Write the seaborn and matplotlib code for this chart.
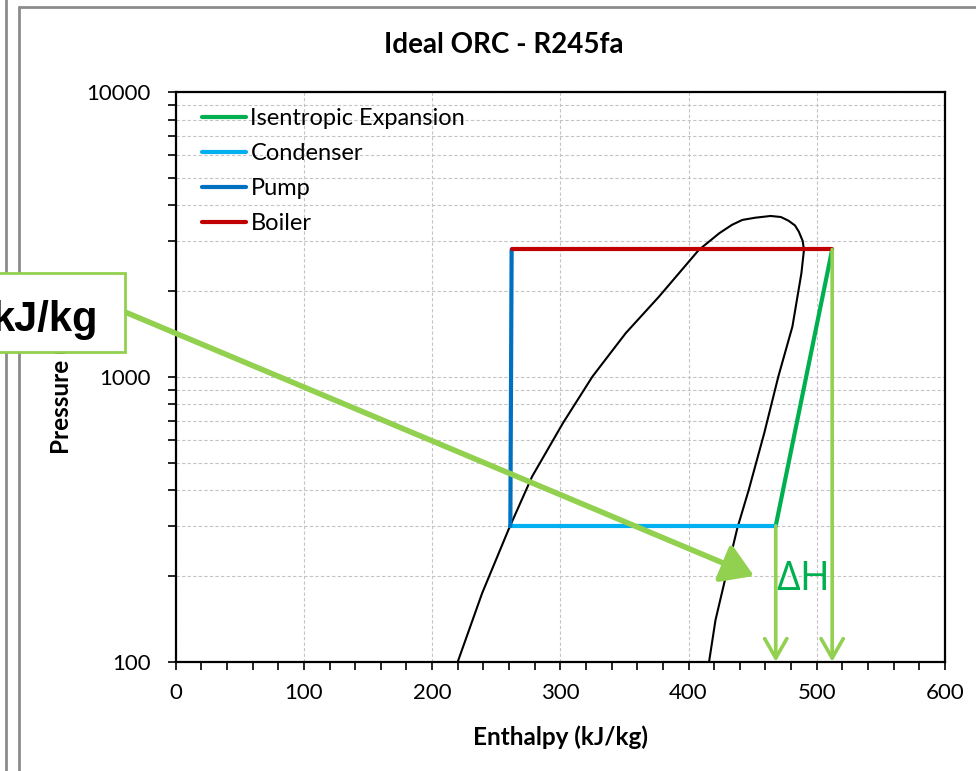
import numpy as np
import pandas as pd
import matplotlib
matplotlib.use('Agg')
import matplotlib.pyplot as plt
import seaborn as sns
from matplotlib.patches import Rectangle
from matplotlib.lines import Line2D
from matplotlib.ticker import LogLocator, FixedLocator, MultipleLocator, NullFormatter

# Saturation dome of R245fa
dome_h = [220, 239, 260, 278, 302, 325, 351, 377, 408, 424, 434, 442, 452, 464, 472, 478, 483, 486, 489, 490, 488, 481, 470, 459, 447, 438, 429, 421, 416]
dome_p = [100, 174, 294, 447, 688, 1002, 1424, 1914, 2790, 3194, 3420, 3556, 3620, 3671, 3640, 3532, 3400, 3233, 3000, 2790, 2311, 1502, 1002, 634, 402, 294, 199, 140, 100]

# Ideal ORC state points
p_low = 300
p_high = 2800
h_pump_in = 261
h_pump_out = 262
h_turb_in = 512
h_turb_out = 468

expansion_h = [h_turb_in, h_turb_out]
expansion_p = [p_high, p_low]
condenser_h = [h_turb_out, h_pump_in]
condenser_p = [p_low, p_low]
pump_h = [h_pump_in, h_pump_out]
pump_p = [p_low, p_high]
boiler_h = [h_pump_out, h_turb_in]
boiler_p = [p_high, p_high]

# callout arrow tip (data coords)
callout_tip = (451, 200)

W, H = 976, 771


def fx(px):
    return px / W


def fy(py):
    return 1 - py / H


sns.set_theme(style='white')
plt.rcParams['font.family'] = ['Lato', 'DejaVu Sans']

fig = plt.figure(figsize=(W / 100, H / 100), dpi=100)
ax = fig.add_axes([fx(175.7), fy(661.7), (945 - 175.7) / W, (661.7 - 92) / H])

sns.lineplot(x=dome_h, y=dome_p, sort=False, color='black', lw=1.5, ax=ax, zorder=3)
sns.lineplot(x=expansion_h, y=expansion_p, sort=False, color='#00B050', lw=3,
             label='Isentropic Expansion', ax=ax, zorder=4)
sns.lineplot(x=condenser_h, y=condenser_p, sort=False, color='#00B0F0', lw=3,
             label='Condenser', ax=ax, zorder=4)
sns.lineplot(x=pump_h, y=pump_p, sort=False, color='#0070C0', lw=3,
             label='Pump', ax=ax, zorder=4)
sns.lineplot(x=boiler_h, y=boiler_p, sort=False, color='#C00000', lw=3,
             label='Boiler', ax=ax, zorder=4)

ax.set_yscale('log')
ax.set_xlim(0, 600)
ax.set_ylim(100, 10000)
ax.xaxis.set_major_locator(MultipleLocator(100))
ax.xaxis.set_minor_locator(MultipleLocator(20))
ax.yaxis.set_major_locator(FixedLocator([100, 1000, 10000]))
ax.yaxis.set_minor_locator(LogLocator(base=10, subs=np.arange(2, 10)))
ax.yaxis.set_minor_formatter(NullFormatter())
ax.set_yticklabels(['100', '1000', '10000'])
ax.set_xticks(range(0, 601, 100))
ax.set_xticklabels([str(v) for v in range(0, 601, 100)])

grid_kw = dict(color='#c4c4c4', linestyle=(0, (3, 2)), lw=0.8)
ax.grid(True, which='major', axis='x', **grid_kw)
ax.grid(True, which='both', axis='y', **grid_kw)
ax.set_axisbelow(True)

for s in ax.spines.values():
    s.set_color('black')
    s.set_linewidth(1.6)

ax.tick_params(axis='both', which='both', direction='out', length=6, width=1.2,
               color='black', bottom=True, left=True)
ax.tick_params(axis='both', which='major', labelsize=16, labelcolor='black')
ax.tick_params(axis='x', which='major', pad=9)
ax.tick_params(axis='y', which='major', pad=12)

ax.set_xlabel('Enthalpy (kJ/kg)', fontsize=17.5, fontweight='bold', color='black')
ax.set_ylabel('Pressure (kPa)', fontsize=17.5, fontweight='bold', color='black')
ax.xaxis.set_label_coords(0.5, -(725 - 661.7) / 569.7)
ax.yaxis.set_label_coords((73 - 175.7) / 769.3, 0.5)

leg = ax.legend(loc='upper left', bbox_to_anchor=((202 - 175.7) / 769.3, 0.972),
                frameon=False, fontsize=17, handlelength=1.85, handletextpad=0.2,
                labelspacing=0.6, borderpad=0, borderaxespad=0)
for t in leg.get_texts():
    t.set_color('black')

# enthalpy drop arrows
arrow_kw = dict(arrowstyle='->,head_length=0.7,head_width=0.4', color='#92D050',
                lw=2.6, mutation_scale=20, shrinkA=0, shrinkB=0)
ax.annotate('', xy=(h_turb_out, 100), xytext=(h_turb_out, p_low), arrowprops=arrow_kw, zorder=5)
ax.annotate('', xy=(h_turb_in, 100), xytext=(h_turb_in, p_high), arrowprops=arrow_kw, zorder=5)
ax.text(h_turb_out + 0.5, 179, '\u0394H', color='#00B050', fontsize=29.5,
        family=['Open Sans', 'DejaVu Sans'], ha='left', va='baseline', zorder=6)

# callout arrow from the label box
ax.annotate('', xy=callout_tip, xycoords='data',
            xytext=(fx(125), fy(312)), textcoords='figure fraction',
            arrowprops=dict(arrowstyle='-|>,head_length=0.95,head_width=0.6',
                            color='#92D050', lw=4, mutation_scale=20,
                            shrinkA=0, shrinkB=0),
            annotation_clip=False, zorder=6)

# callout box (cut by the screenshot edge)
fig.add_artist(Rectangle((fx(-10), fy(352)), 135 / W, 79 / H, transform=fig.transFigure,
                         facecolor='white', edgecolor='#92D050', lw=2, zorder=10))
fig.text(fx(98), fy(331), 'kJ/kg', fontsize=30, fontweight='bold',
         family=['Liberation Sans', 'DejaVu Sans'], ha='right', va='baseline',
         color='black', zorder=11)

fig.text(fx(504), fy(45), 'Ideal ORC - R245fa', fontsize=20, fontweight='bold',
         ha='center', va='center', color='black')

# window frame lines from the screenshot
for xs, ys in [([5.5, 5.5], [0, H]), ([18.5, 18.5], [7, H]), ([18.5, W], [7, 7])]:
    fig.add_artist(Line2D([fx(x) for x in xs], [fy(y) for y in ys],
                          transform=fig.transFigure, color='#8c8c8c', lw=2))

fig.savefig('out.png', dpi=100)
